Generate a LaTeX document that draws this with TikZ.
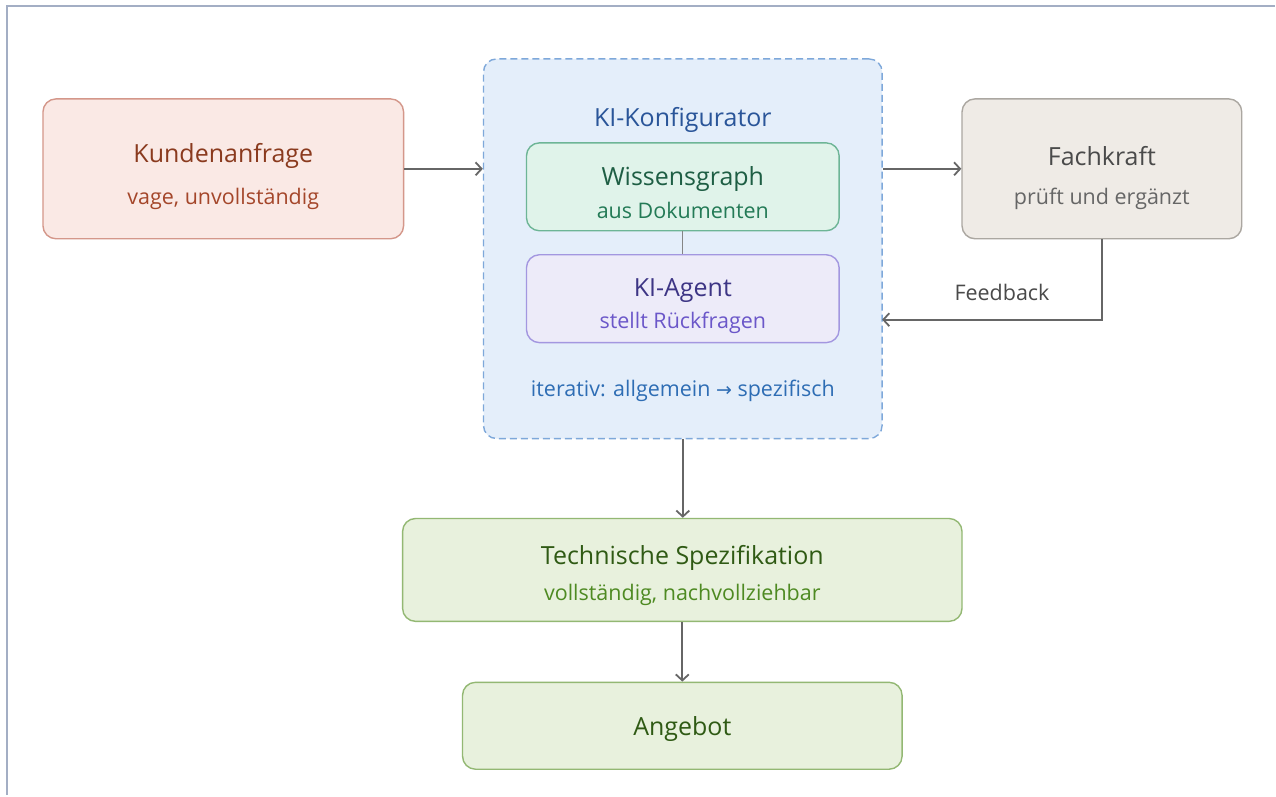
\documentclass[tikz,border=0pt]{standalone}
\usepackage{fontspec}
\setmainfont{Open Sans}
\newfontfamily\arrowfont{DejaVu Sans}
\usetikzlibrary{arrows.meta,calc}
\definecolor{frameC}{HTML}{A3AEC4}
\definecolor{arrC}{HTML}{666666}
\definecolor{kFill}{HTML}{FAE9E5}\definecolor{kDraw}{HTML}{D4978A}\definecolor{kT}{HTML}{8A3A1E}\definecolor{kS}{HTML}{A4462A}
\definecolor{cFill}{HTML}{E4EEFA}\definecolor{cDraw}{HTML}{7EA8DA}\definecolor{cT}{HTML}{2A5599}\definecolor{cS}{HTML}{2E6DB4}
\definecolor{wFill}{HTML}{E0F3EA}\definecolor{wDraw}{HTML}{6DB596}\definecolor{wT}{HTML}{1E5E44}\definecolor{wS}{HTML}{237A56}
\definecolor{aFill}{HTML}{EDEBF9}\definecolor{aDraw}{HTML}{A397E0}\definecolor{aT}{HTML}{3D3585}\definecolor{aS}{HTML}{6B57C9}
\definecolor{fFill}{HTML}{EFEBE6}\definecolor{fDraw}{HTML}{ABA7A1}\definecolor{fT}{HTML}{4A4A4A}\definecolor{fS}{HTML}{666666}
\definecolor{sFill}{HTML}{E8F1DD}\definecolor{sDraw}{HTML}{93B873}\definecolor{sT}{HTML}{2F5A14}\definecolor{sS}{HTML}{4E8A22}
\newcommand{\ttl}[1]{{\fontsize{25}{30}\selectfont #1}}
\newcommand{\sbt}[1]{{\fontsize{21.5}{26}\selectfont #1}}
\begin{document}
\begin{tikzpicture}[x=1pt,y=-1pt,
  box/.style={draw,line width=1.4pt,rounded corners=13pt,inner sep=0pt,align=center},
  conn/.style={draw=arrC,line width=2.2pt,-{Straight Barb[length=6pt,width=13pt,line width=1.8pt]}},
  lbl/.style={inner sep=0pt,anchor=center}]
\fill[white] (0,0) rectangle (1276,796);
\draw[frameC,line width=2.6pt] (7,796) -- (7,6) -- (1276,6);
% container
\node[box,draw=cDraw,fill=cFill,dash pattern=on 7pt off 4pt,minimum width=399pt,minimum height=380pt] (cont) at (683.5,249) {};
\node[lbl,text=cT] (conttitle) at (683.5,120) {\ttl{KI-Konfigurator}};
\node[lbl,text=cS] (iter) at (683.5,391) {\sbt{iterativ: allgemein {\arrowfont\fontsize{19}{22}\selectfont →} spezifisch}};
% inner boxes
\node[box,draw=wDraw,fill=wFill,minimum width=313pt,minimum height=88pt] (wiss) at (683.5,187) {};
\node[lbl,text=wT] (wisst) at (683.5,179) {\ttl{Wissensgraph}};
\node[lbl,text=wS] (wisss) at (683.5,211) {\sbt{aus Dokumenten}};
\node[box,draw=aDraw,fill=aFill,minimum width=313pt,minimum height=88pt] (agent) at (683.5,299) {};
\node[lbl,text=aT] (agentt) at (683.5,291) {\ttl{KI-Agent}};
\node[lbl,text=aS] (agents) at (683.5,323) {\sbt{stellt Rückfragen}};
% left
\node[box,draw=kDraw,fill=kFill,minimum width=361pt,minimum height=140pt] (kund) at (223.5,169) {};
\node[lbl,text=kT] (kundt) at (223.5,156) {\ttl{Kundenanfrage}};
\node[lbl,text=kS] (kunds) at (223.5,199) {\sbt{vage, unvollständig}};
% right
\node[box,draw=fDraw,fill=fFill,minimum width=280pt,minimum height=140pt] (fach) at (1103,169) {};
\node[lbl,text=fT] (facht) at (1103,156) {\ttl{Fachkraft}};
\node[lbl,text=fS] (fachs) at (1103,199) {\sbt{prüft und ergänzt}};
% bottom
\node[box,draw=sDraw,fill=sFill,minimum width=560pt,minimum height=103pt] (spec) at (683,570.5) {};
\node[lbl,text=sT] (spect) at (683,559) {\ttl{Technische Spezifikation}};
\node[lbl,text=sS] (specs) at (683,596) {\sbt{vollständig, nachvollziehbar}};
\node[box,draw=sDraw,fill=sFill,minimum width=440pt,minimum height=87pt] (ang) at (683,726.5) {};
\node[lbl,text=sT] (angt) at (683,730) {\ttl{Angebot}};
% connectors
\draw[conn] (kund.east) -- (kund.east -| cont.west);
\draw[conn] (fach.west -| cont.east) -- (fach.west);
\coordinate (fbend) at (883,320);
\draw[conn] (fach.south) |- (fbend);
\node[lbl,text=fT] (fb) at (1003,293) {\sbt{Feedback}};
\draw[arrC!80,line width=1.2pt] (wiss.south) -- (agent.north);
\draw[conn] (cont.south) -- (cont.south |- spec.north);
\draw[conn] (spec.south) -- (spec.south |- ang.north);
\end{tikzpicture}
\end{document}
